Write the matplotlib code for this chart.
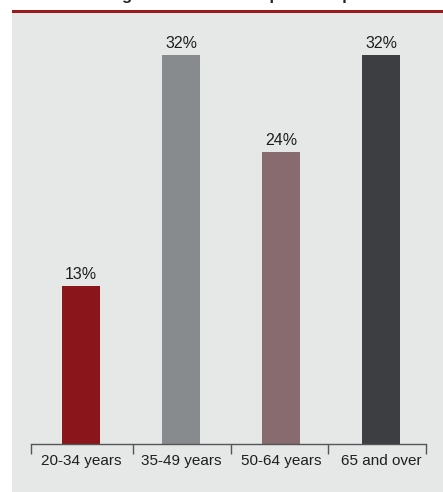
import matplotlib
matplotlib.use("Agg")
import matplotlib.pyplot as plt
from matplotlib.patches import Rectangle

# Age groups and their share (%)
age_groups = ["20-34 years", "35-49 years", "50-64 years", "65 and over"]
shares = [13, 32, 24, 32]
bar_colors = ["#8a161b", "#888b8e", "#876b6e", "#3d3e42"]

PANEL = "#e6e7e7"
RED = "#9b1a1a"
plt.rcParams['font.family'] = ['Liberation Sans', 'DejaVu Sans']

fig = plt.figure(figsize=(4.43, 4.92), dpi=100)
fig.patch.set_facecolor("white")

# grey panel under a red rule
fig.add_artist(Rectangle((12 / 443, 0), 1 - 12 / 443, 1 - 12 / 492,
                         transform=fig.transFigure, facecolor=PANEL,
                         edgecolor="none", zorder=0))
fig.add_artist(Rectangle((12 / 443, 1 - 13 / 492), 1 - 12 / 443, 3 / 492,
                         transform=fig.transFigure, facecolor=RED,
                         edgecolor="none", zorder=1))

# heading sits above the page edge, only descenders show
fig.text(110 / 443, 1.0, "Age bands of the unpaid and paid carers",
         ha="left", va="baseline", fontsize=12, fontweight="bold",
         color="#222222")

ax = fig.add_axes([31 / 443, 48 / 492, (426 - 31) / 443, (444 - 12) / 492])
ax.set_facecolor("none")

x = range(len(age_groups))
bars = ax.bar(x, shares, width=0.38, color=bar_colors, zorder=2)
for rect, val in zip(bars, shares):
    ax.text(rect.get_x() + rect.get_width() / 2, rect.get_height() + 0.3,
            f"{val}%", ha="center", va="bottom", fontsize=11.5, color="#1e1e1e")

ax.set_xlim(-0.5, 3.45)
ax.set_ylim(0, 35.5)

for side in ["top", "right", "left"]:
    ax.spines[side].set_visible(False)
ax.spines["bottom"].set_color("#555555")
ax.spines["bottom"].set_linewidth(1)

ax.set_yticks([])
ax.set_xticks(list(x))
ax.set_xticklabels(age_groups, fontsize=11, color="#1e1e1e")
ax.tick_params(axis="x", which="major", length=0, pad=7)
ax.set_xticks([-0.5, 0.52, 1.5, 2.47, 3.45], minor=True)
ax.tick_params(axis="x", which="minor", length=7, width=1, color="#555555",
               direction="out")

fig.savefig("out.png", dpi=100)
